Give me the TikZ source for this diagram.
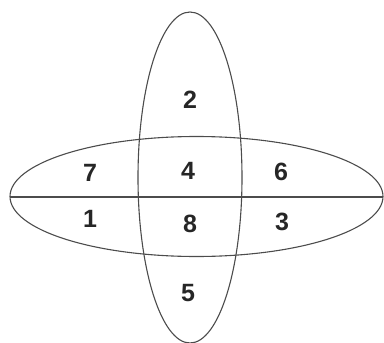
\documentclass[tikz,border=0pt]{standalone}
\usepackage{fontspec}
\setmainfont{Liberation Sans}
\tikzset{
  curve/.style={draw=black!70, line width=1.1pt},
  num/.style={font=\fontsize{25}{25}\selectfont\bfseries, text=black!85, inner sep=0pt, anchor=center}
}
\begin{document}
\begin{tikzpicture}[x=1pt,y=-1pt]
\useasboundingbox (0,0) rectangle (384,343);
\draw[curve] (190,177.5) ellipse [x radius=52, y radius=165.5];
\draw[curve] (196.5,196.5) ellipse [x radius=186.5, y radius=60];
\coordinate (L) at (10,197);
\coordinate (R) at (383,197);
\draw[curve] (L) -- (R);
\node[num] (n2) at (190,100) {2};
\node[num] (n7) at (90,173) {7};
\node[num] (n4) at (188,171) {4};
\node[num] (n6) at (281,172) {6};
\node[num] (n1) at (90,219) {1};
\node[num] (n8) at (190,224) {8};
\node[num] (n3) at (282,222) {3};
\node[num] (n5) at (188,293) {5};
\end{tikzpicture}
\end{document}
